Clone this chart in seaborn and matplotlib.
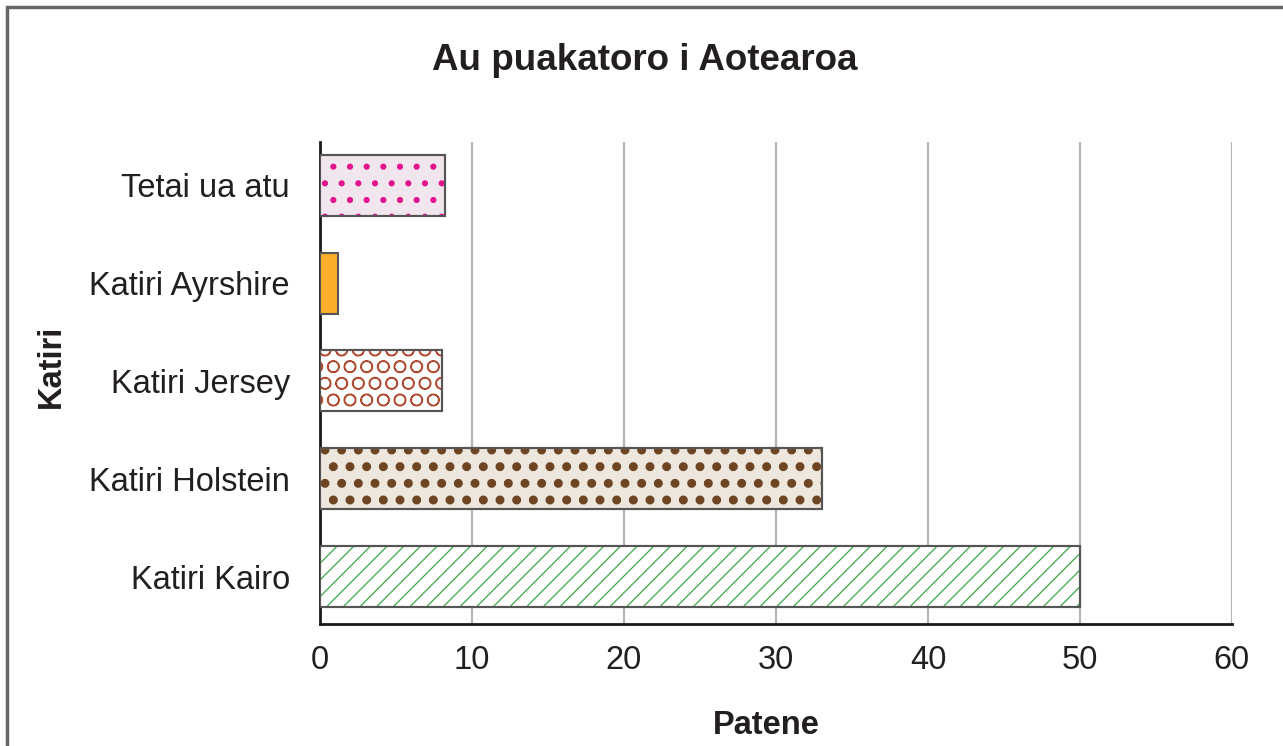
import matplotlib
matplotlib.use("Agg")
import matplotlib.pyplot as plt
import matplotlib.patches as mpatches
import seaborn as sns
import pandas as pd

categories = ["Tetai ua atu", "Katiri Ayrshire", "Katiri Jersey", "Katiri Holstein", "Katiri Kairo"]
values = [8.2, 1.2, 8.0, 33.0, 50.0]
x_ticks = [0, 10, 20, 30, 40, 50, 60]
title = "Au puakatoro i Aotearoa"
x_label = "Patene"
y_label = "Katiri"

face_colors = ["#f2e6ee", "#fbae2a", "#ffffff", "#eee7de", "#ffffff"]
hatch_colors = ["#e0158c", "#fbae2a", "#b04a30", "#6e4522", "#3aa845"]
hatches = [".", "", "O", ".", "//"]
hatch_widths = [2.0, 1.0, 1.0, 4.0, 0.9]

sns.set_theme(style="white")
plt.rcParams["font.family"] = ["Liberation Sans", "DejaVu Sans"]

df = pd.DataFrame({"cat": categories, "val": values})

fig = plt.figure(figsize=(12.83, 7.46), dpi=100)
ax = fig.add_axes([0.2494, 0.1635, 0.9602 - 0.2494, 0.8097 - 0.1635])

sns.barplot(data=df, x="val", y="cat", orient="h", ax=ax, width=0.624,
            color="white", saturation=1)

for i, p in enumerate(list(ax.patches)):
    p.set_facecolor(face_colors[i])
    p.set_edgecolor("#555555")
    p.set_linewidth(1.5)
    p.set_zorder(3)
    if hatches[i]:
        x0, y0 = p.get_x(), p.get_y()
        w, h = p.get_width(), p.get_height()
        with plt.rc_context({"hatch.linewidth": hatch_widths[i]}):
            ov = mpatches.Rectangle((x0, y0), w, h, facecolor="none",
                                    edgecolor=hatch_colors[i], linewidth=0,
                                    hatch=hatches[i], zorder=4)
        ax.add_patch(ov)
        ol = mpatches.Rectangle((x0, y0), w, h, facecolor="none",
                                edgecolor="#555555", linewidth=1.5, zorder=5)
        ax.add_patch(ol)

ax.set_xlim(0, 60)
ax.set_ylim(4.486, -0.445)
ax.set_xticks(x_ticks)
ax.set_xticklabels([str(t) for t in x_ticks], fontsize=23.5, color="#231f20")
ax.tick_params(axis="y", labelsize=23.5, colors="#231f20", length=0, pad=21.6)
ax.tick_params(axis="x", length=0, pad=15, colors="#231f20")
ax.set_xlabel("")
ax.set_ylabel("")

ax.xaxis.grid(True, color="#b5b5b5", linewidth=1.6, zorder=0)
ax.yaxis.grid(False)
ax.set_axisbelow(True)

for s in ["top", "right"]:
    ax.spines[s].set_visible(False)
for s in ["left", "bottom"]:
    ax.spines[s].set_color("#1a1a1a")
    ax.spines[s].set_linewidth(2)

fig.text(766 / 1283, 1 - 725 / 746, x_label, ha="center", va="center",
         fontsize=23.5, fontweight="bold", color="#231f20")
fig.text(51 / 1283, 1 - 366 / 746, y_label, ha="center", va="center",
         rotation=90, fontsize=23.5, fontweight="bold", color="#231f20")
fig.text(645 / 1283, 1 - 61 / 746, title, ha="center", va="center", fontsize=26.5,
         fontweight="bold", color="#231f20")

frame = mpatches.Rectangle((7 / 1283, -0.05), 1.1, 1 - 7 / 746 + 0.05,
                           transform=fig.transFigure, facecolor="none",
                           edgecolor="#666666", linewidth=2.5, zorder=10)
fig.patches.append(frame)

fig.savefig("out.png", dpi=100)
